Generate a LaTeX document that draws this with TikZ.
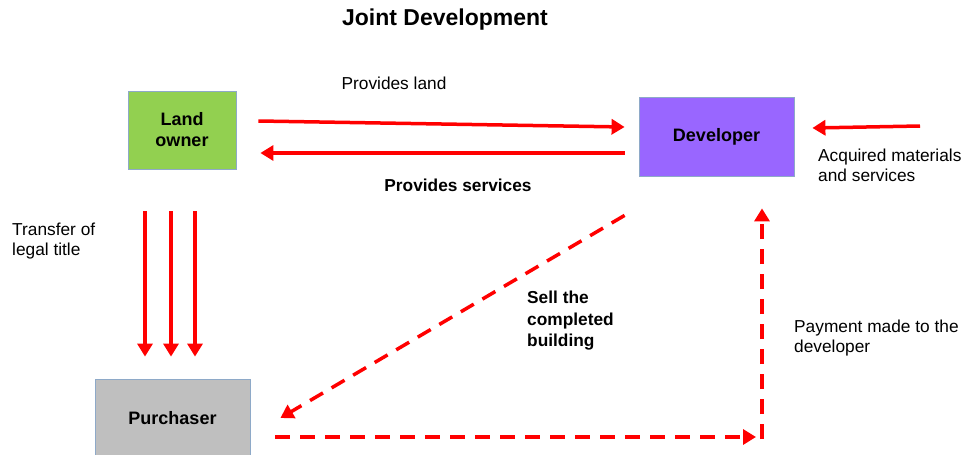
\documentclass[tikz,border=0pt]{standalone}
\usepackage{fontspec}
\setmainfont{Liberation Sans}
\usepackage{xcolor}
\usetikzlibrary{positioning, arrows.meta, shapes}

\definecolor{landgreen}{HTML}{92D050}
\definecolor{devpurple}{HTML}{9966FF}
\definecolor{buyergrey}{HTML}{BFBFBF}
\definecolor{boxedge}{HTML}{8EA9C8}

\tikzset{
  box/.style={draw=boxedge, line width=0.8pt, align=center, font=\fontsize{18}{21}\selectfont\bfseries},
  flow/.style={red, line width=3.5pt, -{Triangle[length=13pt, width=15pt]}},
  dashflow/.style={flow, dash pattern=on 15pt off 10pt},
  txt/.style={font=\fontsize{17.3}{20}\selectfont, align=left}
}

\begin{document}
\begin{tikzpicture}[x=1pt, y=-1pt]
        \useasboundingbox (0,0) rectangle (964,455);
        \node[font=\fontsize{23}{26}\selectfont\bfseries] (title) at (445,20) {Joint Development};
        \node[box, fill=landgreen, minimum width=108pt, minimum height=78pt] (land) at (182,130) {Land\\owner};
        \node[box, fill=devpurple, minimum width=155pt, minimum height=79pt] (dev) at (716.5,136.5) {Developer};
        \node[box, fill=buyergrey, minimum width=155pt, minimum height=78pt] (buyer) at (172.5,418) {Purchaser};
        \coordinate (supply) at (920,126); \coordinate (corner) at (762,437);
        \draw[flow] ([shift={(22,-9)}]land.east) -- ([shift={(-14,-9.5)}]dev.west);
        \draw[flow] ([shift={(-14,16.5)}]dev.west) -- ([shift={(24,23)}]land.east);
        \draw[flow] (supply) -- ([shift={(18,-8.5)}]dev.east);
        \foreach \dx in {-37,-11,13}
            \draw[flow] ([shift={(\dx,42)}]land.south) -- ([shift={(\dx+9.5,-22)}]buyer.north);
        \draw[dashflow] ([shift={(-14,39)}]dev.south west) -- ([shift={(30,0)}]buyer.east);
        \draw[dashflow] ([shift={(25,19)}]buyer.east) -- ([xshift=-6pt]corner);
        \draw[dashflow] ([yshift=-2pt]corner) -- ([shift={(45.5,32)}]dev.south);
        \node[txt] (land lbl) at (394,83) {Provides land};
        \node[txt, font=\fontsize{17.3}{20}\selectfont\bfseries] (serv lbl) at (458,185) {Provides services};
        \node[txt, anchor=west, inner sep=0pt] (supply lbl) at (818,165) {Acquired materials\\and services};
        \node[txt, anchor=west, inner sep=0pt] (title lbl) at (12,241) {Transfer of\\legal title};
        \node[txt, anchor=west, inner sep=0pt, font=\fontsize{17.3}{21.5}\selectfont\bfseries] (sell lbl) at (527,321) {Sell the\\completed\\building};
        \node[txt, anchor=west, inner sep=0pt] (pay lbl) at (794,338) {Payment made to the\\developer};
    \end{tikzpicture}
\end{document}
